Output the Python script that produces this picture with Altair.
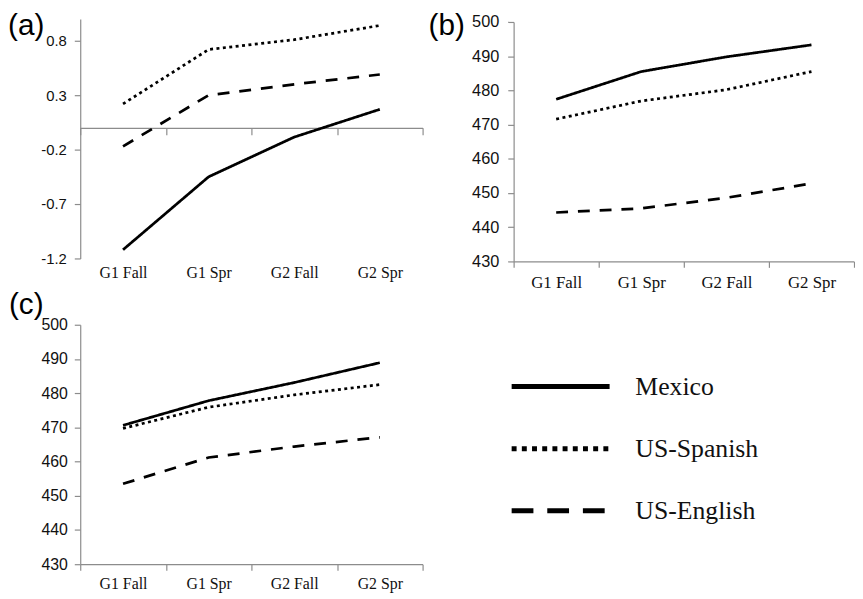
import altair as alt
import pandas as pd

periods = ["G1 Fall", "G1 Spr", "G2 Fall", "G2 Spr"]
series = ["Mexico", "US-Spanish", "US-English"]

a_mexico = [-1.12, -0.45, -0.085, 0.17]
a_us_spanish = [0.22, 0.72, 0.81, 0.94]
a_us_english = [-0.17, 0.30, 0.40, 0.49]

b_mexico = [477.4, 485.5, 489.8, 493.3]
b_us_spanish = [471.6, 476.9, 480.2, 485.5]
b_us_english = [444.3, 445.5, 448.6, 452.8]

c_mexico = [470.6, 477.8, 483.1, 488.9]
c_us_spanish = [469.7, 475.9, 479.5, 482.5]
c_us_english = [453.5, 461.2, 464.4, 467.1]

a_ticks = [-1.2, -0.7, -0.2, 0.3, 0.8]
score_ticks = [430, 440, 450, 460, 470, 480, 490, 500]
panel_labels = ["(a)", "(b)", "(c)"]

GRAY = "#8c8c8c"
INK = "#111111"


def long(m, s, e):
    rows = []
    for name, vals in zip(series, [m, s, e]):
        for p, v in zip(periods, vals):
            rows.append({"period": p, "group": name, "value": v})
    return pd.DataFrame(rows)


def panel(df, label, ydomain, yticks, ylab_size, ylab_pad, xlab_size, xlab_pad,
          label_x, label_y, w, h=242, top=0, zero_offset=None):
    if zero_offset is None:
        xaxis = alt.Axis(title=None, domainColor=GRAY, domainWidth=1.2, tickColor=GRAY,
                         tickWidth=1.2, tickSize=6, tickBand="extent",
                         labelFont="Liberation Serif", labelFontSize=xlab_size,
                         labelColor=INK, labelPadding=xlab_pad, labelAngle=0)
    else:
        xaxis = alt.Axis(title=None, domainColor=GRAY, domainWidth=1.2, tickColor=GRAY,
                         tickWidth=1.2, tickSize=7, tickBand="extent", offset=zero_offset,
                         labelFont="Liberation Serif", labelFontSize=xlab_size,
                         labelColor=INK, labelPadding=-zero_offset - 7 + xlab_pad,
                         labelAngle=0)
    yaxis = alt.Axis(title=None, values=yticks, labelExpr="'' + datum.value",
                     domainColor=GRAY, domainWidth=1.2, tickColor=GRAY, tickWidth=1.2,
                     tickSize=6, labelPadding=ylab_pad, labelFont="Liberation Sans",
                     labelFontSize=ylab_size, labelColor=INK, grid=False)
    yscale = alt.Scale(domain=ydomain, nice=False, zero=False, range=[h, top])
    lines = alt.Chart(df).mark_line(color="black", strokeWidth=2.75).encode(
        x=alt.X("period:N", sort=periods, bandPosition=0.5,
                scale=alt.Scale(type="band", domain=periods, paddingInner=0, paddingOuter=0),
                axis=xaxis),
        y=alt.Y("value:Q", scale=yscale, axis=yaxis),
        strokeDash=alt.StrokeDash("group:N", sort=series,
                                  scale=alt.Scale(domain=series, range=[[1, 0], [3, 3.5], [12, 10]]),
                                  legend=None),
    )
    txt = alt.Chart(pd.DataFrame({"label": [label]})).mark_text(
        align="left", baseline="top", font="Liberation Sans", fontSize=30, color="black"
    ).encode(x=alt.value(label_x), y=alt.value(label_y), text="label:N")
    return alt.layer(lines, txt).properties(width=w, height=h)


A = panel(long(a_mexico, a_us_spanish, a_us_english), panel_labels[0], [-1.2, 1.0], a_ticks,
          15, 8, 16, 6, label_x=-73, label_y=-8, w=346, zero_offset=-132)
B = panel(long(b_mexico, b_us_spanish, b_us_english), panel_labels[1], [430, 500], score_ticks,
          16.5, 9, 17, 7, label_x=-86, label_y=-8, w=344, h=245, top=3)
C = panel(long(c_mexico, c_us_spanish, c_us_english), panel_labels[2], [430, 500], score_ticks,
          16, 7, 16, 6, label_x=-72, label_y=-35, w=346)

leg_df = pd.DataFrame({"group": series})
leg_base = alt.Chart(leg_df).encode(
    y=alt.Y("group:N", sort=series,
            scale=alt.Scale(type="point", domain=series, range=[97.5, 223], padding=0),
            axis=None)
)
leg_rules = leg_base.mark_rule(color="black", strokeWidth=5).encode(
    x=alt.value(-2), x2=alt.value(97),
    strokeDash=alt.StrokeDash("group:N", sort=series,
                              scale=alt.Scale(domain=series, range=[[1, 0], [5, 5.3], [22, 14]]),
                              legend=None),
)
leg_text = leg_base.mark_text(align="left", baseline="middle", font="Liberation Serif",
                              fontSize=26, color=INK).encode(x=alt.value(123), text="group:N")
L = alt.layer(leg_rules, leg_text).properties(width=260, height=240)

left = alt.vconcat(A, C, spacing=10).resolve_scale(strokeDash="independent")
right = alt.vconcat(B, L, spacing=0).resolve_scale(strokeDash="independent")
chart = (
    alt.hconcat(left, right, spacing=5)
    .resolve_scale(strokeDash="independent")
    .properties(padding=0)
    .configure_view(stroke=None)
)

chart.save("out.html", embed_options={"renderer": "svg", "actions": False})
